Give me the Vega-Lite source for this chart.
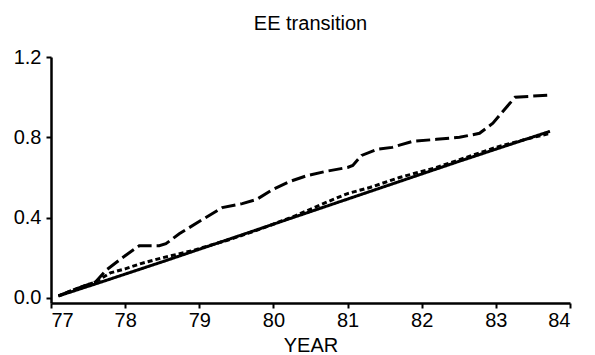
{
  "$schema": "https://vega.github.io/schema/vega-lite/v6.json",
  "width": 519,
  "height": 246,
  "autosize": {"type": "none"},
  "padding": {"left": 51, "top": 57, "right": 25, "bottom": 52},
  "background": "white",
  "title": {"text": "EE transition", "font": "Liberation Sans", "fontSize": 20, "fontWeight": "normal", "color": "black", "offset": 13},
  "config": {
    "view": {"stroke": null},
    "axis": {"labelFont": "Liberation Sans", "labelFontSize": 20, "labelColor": "black", "titleFont": "Liberation Sans", "titleFontSize": 20, "titleFontWeight": "normal", "titleColor": "black", "domainColor": "black", "domainWidth": 2.5, "tickColor": "black", "tickWidth": 2, "tickSize": 5, "grid": false}
  },
  "data": {"values": [
    {"s": "solid", "year": 77.1, "v": 0.01},
    {"s": "solid", "year": 77.6, "v": 0.07},
    {"s": "solid", "year": 78.5, "v": 0.18},
    {"s": "solid", "year": 79.5, "v": 0.305},
    {"s": "solid", "year": 80.5, "v": 0.43},
    {"s": "solid", "year": 81.5, "v": 0.555},
    {"s": "solid", "year": 82.5, "v": 0.68},
    {"s": "solid", "year": 83.73, "v": 0.83},
    {"s": "dot", "year": 77.1, "v": 0.01},
    {"s": "dot", "year": 77.3, "v": 0.04},
    {"s": "dot", "year": 77.6, "v": 0.08},
    {"s": "dot", "year": 77.8, "v": 0.125},
    {"s": "dot", "year": 78.0, "v": 0.145},
    {"s": "dot", "year": 78.2, "v": 0.17},
    {"s": "dot", "year": 78.5, "v": 0.2},
    {"s": "dot", "year": 78.9, "v": 0.235},
    {"s": "dot", "year": 79.4, "v": 0.29},
    {"s": "dot", "year": 79.8, "v": 0.34},
    {"s": "dot", "year": 80.3, "v": 0.41},
    {"s": "dot", "year": 80.8, "v": 0.49},
    {"s": "dot", "year": 81.0, "v": 0.52},
    {"s": "dot", "year": 81.3, "v": 0.55},
    {"s": "dot", "year": 81.7, "v": 0.6},
    {"s": "dot", "year": 82.2, "v": 0.65},
    {"s": "dot", "year": 82.6, "v": 0.7},
    {"s": "dot", "year": 83.0, "v": 0.75},
    {"s": "dot", "year": 83.4, "v": 0.79},
    {"s": "dot", "year": 83.73, "v": 0.82},
    {"s": "dash", "year": 77.1, "v": 0.01},
    {"s": "dash", "year": 77.3, "v": 0.04},
    {"s": "dash", "year": 77.6, "v": 0.08},
    {"s": "dash", "year": 77.75, "v": 0.14},
    {"s": "dash", "year": 77.96, "v": 0.2},
    {"s": "dash", "year": 78.19, "v": 0.26},
    {"s": "dash", "year": 78.46, "v": 0.26},
    {"s": "dash", "year": 78.55, "v": 0.27},
    {"s": "dash", "year": 78.73, "v": 0.32},
    {"s": "dash", "year": 79.04, "v": 0.39},
    {"s": "dash", "year": 79.31, "v": 0.45},
    {"s": "dash", "year": 79.58, "v": 0.47},
    {"s": "dash", "year": 79.77, "v": 0.49},
    {"s": "dash", "year": 79.99, "v": 0.54},
    {"s": "dash", "year": 80.22, "v": 0.58},
    {"s": "dash", "year": 80.46, "v": 0.61},
    {"s": "dash", "year": 80.7, "v": 0.63},
    {"s": "dash", "year": 81.0, "v": 0.65},
    {"s": "dash", "year": 81.07, "v": 0.66},
    {"s": "dash", "year": 81.19, "v": 0.71},
    {"s": "dash", "year": 81.4, "v": 0.74},
    {"s": "dash", "year": 81.6, "v": 0.75},
    {"s": "dash", "year": 81.88, "v": 0.78},
    {"s": "dash", "year": 82.2, "v": 0.79},
    {"s": "dash", "year": 82.51, "v": 0.8},
    {"s": "dash", "year": 82.78, "v": 0.82},
    {"s": "dash", "year": 82.96, "v": 0.87},
    {"s": "dash", "year": 83.12, "v": 0.94},
    {"s": "dash", "year": 83.26, "v": 1.0},
    {"s": "dash", "year": 83.73, "v": 1.01}
  ]},
  "mark": {"type": "line", "color": "black", "strokeWidth": 3},
  "encoding": {
    "x": {"field": "year", "type": "quantitative", "scale": {"domain": [77, 84], "nice": false, "zero": false},
      "axis": {"values": [77, 78, 79, 80, 81, 82, 83, 84], "format": "d", "title": "YEAR", "labelPadding": 2, "titlePadding": 5}},
    "y": {"field": "v", "type": "quantitative", "scale": {"domain": [-0.025, 1.2], "nice": false, "zero": false},
      "axis": {"values": [0, 0.4, 0.8, 1.2], "format": ".1f", "title": null, "labelPadding": 5}},
    "strokeDash": {"field": "s", "type": "nominal", "scale": {"domain": ["solid", "dot", "dash"], "range": [[1, 0], [5, 3], [14, 5]]}, "legend": null},
    "detail": {"field": "s"}
  }
}
